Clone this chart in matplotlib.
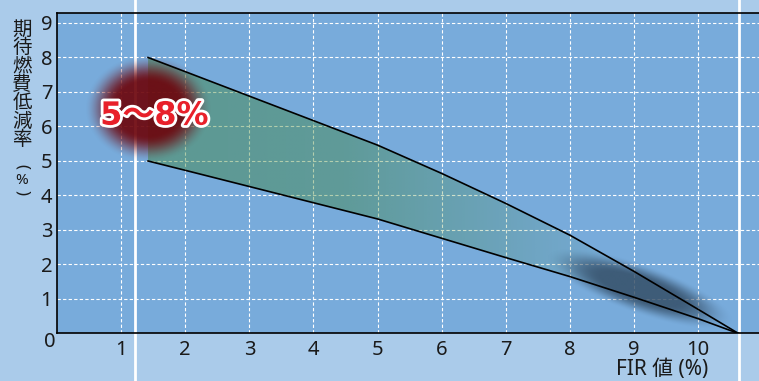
import numpy as np
import matplotlib.pyplot as plt
from matplotlib.patches import Polygon
from matplotlib import patheffects as pe

plt.rcParams['font.family'] = ['Noto Sans', 'Noto Sans CJK JP', 'DejaVu Sans']

# FIR value (%) vs expected fuel saving (%) band
fir = [1.42, 2, 3, 4, 5, 6, 7, 8, 9, 10, 10.63]
upper = [8.0, 7.59, 6.88, 6.17, 5.46, 4.64, 3.77, 2.85, 1.8, 0.7, 0.0]
lower = [5.0, 4.73, 4.26, 3.79, 3.32, 2.76, 2.2, 1.65, 1.05, 0.43, 0.0]

x_ticks = list(range(1, 11))
y_ticks = list(range(1, 10))
guide_x = [1.22, 10.64]
range_label = '5～8%'
y_label_chars = ['期', '待', '燃', '費', '低', '減', '率']
x_label = 'FIR 値 (%)'

W, H = 759, 381
XMAX, YMAX = 10.95, 9.29
AX_RECT = [0.0751, 0.1247, 0.9249, 0.8412]
INK = '#1a1a1a'

fig = plt.figure(figsize=(W / 100, H / 100), dpi=100, facecolor='#aacbea')
ax = fig.add_axes(AX_RECT)
ax.set_facecolor('#78abdb')

# pixels per data unit, used to shape the soft blobs
sx = AX_RECT[2] * W / XMAX
sy = AX_RECT[3] * H / YMAX

ax.set_xticks(x_ticks)
ax.set_yticks(y_ticks)
ax.grid(True, color='white', ls=(0, (3, 2)), lw=0.8)
ax.set_axisbelow(True)

for gx in guide_x:
    ax.axvline(gx, ymin=-0.16, ymax=1.06, color='white', lw=2, clip_on=False, zorder=1.5)

# band with a left-to-right fading fill
verts = list(zip(fir, upper)) + list(zip(fir[::-1], lower[::-1]))
band = Polygon(verts, closed=True, facecolor='none', edgecolor='none')
ax.add_patch(band)
gx_vals = np.linspace(fir[0], fir[-1], 400)
alpha = np.interp(gx_vals, [fir[0], 4.5, 7, 8.5, fir[-1]], [0.42, 0.38, 0.18, 0.05, 0.0])
grad = np.zeros((1, gx_vals.size, 4))
grad[..., :3] = np.array([55, 128, 45]) / 255
grad[0, :, 3] = alpha
im = ax.imshow(grad, extent=(fir[0], fir[-1], 0, max(upper)), aspect='auto',
               interpolation='bilinear', zorder=2)
im.set_clip_path(band)


def smoothstep(a, b, v):
    t = np.clip((v - a) / (b - a), 0, 1)
    return t * t * (3 - 2 * t)


xx, yy = np.meshgrid(np.linspace(0, XMAX, 700), np.linspace(0, YMAX, 320))

# dark shadow near the end of the band
shx, shy, ang = 9.1, 1.27, np.deg2rad(-19.6)
dx, dy = (xx - shx) * sx, (yy - shy) * sy
u = dx * np.cos(ang) + dy * np.sin(ang)
v = -dx * np.sin(ang) + dy * np.cos(ang)
r = np.sqrt((u / 100) ** 2 + (v / 25) ** 2)
shadow = np.zeros(xx.shape + (4,))
shadow[..., :3] = np.array([50, 75, 100]) / 255
shadow[..., 3] = 0.82 * (1 - smoothstep(0.4, 1.0, r))
ax.imshow(shadow, extent=(0, XMAX, 0, YMAX), origin='lower', aspect='auto', zorder=3)

# red glow at the start of the band
bx, by = fir[0], (upper[0] + lower[0]) / 2
r = np.sqrt(((xx - bx) * sx / 64) ** 2 + ((yy - by) * sy / 54) ** 2)
glow = np.zeros(xx.shape + (4,))
glow[..., :3] = np.array([109, 5, 12]) / 255
glow[..., 3] = 0.92 * (1 - smoothstep(0.5, 1.0, r))
ax.imshow(glow, extent=(0, XMAX, 0, YMAX), origin='lower', aspect='auto', zorder=4)

ax.plot(fir, upper, color='black', lw=1.2, zorder=5)
ax.plot(fir, lower, color='black', lw=1.2, zorder=5)

ax.text(bx + 0.1, by - 0.2, range_label, ha='center', va='center', fontsize=23,
        fontweight='bold', color='#e8202a', family=['DejaVu Sans', 'Noto Sans CJK JP'],
        zorder=6, path_effects=[pe.withStroke(linewidth=4, foreground='white')])

ax.set_xlim(0, XMAX)
ax.set_ylim(0, YMAX)

for side in ['left', 'top', 'bottom']:
    ax.spines[side].set_linewidth(1.2)
    ax.spines[side].set_color('black')
ax.spines['right'].set_visible(False)

ax.tick_params(length=0, labelsize=14.5, labelcolor=INK)
ax.tick_params(axis='x', pad=5)
ax.tick_params(axis='y', pad=3.5)
ax.annotate('0', xy=(0, 0), xytext=(-7, -9), textcoords='offset pixels',
            ha='center', va='center', fontsize=14.5, color=INK)

# vertical Japanese axis title
for i, ch in enumerate(y_label_chars):
    fig.text(22 / W, 1 - (30 + i * 18.3) / H, ch, ha='center', va='center',
             fontsize=14, color=INK)
fig.text(22 / W, 1 - 167 / H, '(', rotation=270, rotation_mode='anchor',
         ha='center', va='center', fontsize=12, color=INK)
fig.text(22 / W, 1 - 180 / H, '%', ha='center', va='center', fontsize=11, color=INK)
fig.text(22 / W, 1 - 192 / H, ')', rotation=270, rotation_mode='anchor',
         ha='center', va='center', fontsize=12, color=INK)

fig.text(662 / W, 1 - 369 / H, x_label, ha='center', va='center', fontsize=15, color=INK)

fig.savefig('out.png', dpi=100, facecolor=fig.get_facecolor())
